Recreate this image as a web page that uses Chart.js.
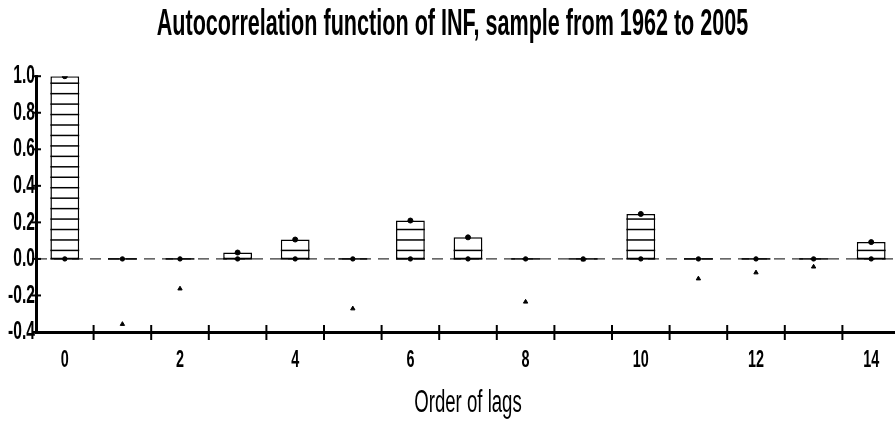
<!DOCTYPE html>
<html>
<head>
<meta charset="utf-8">
<title>Autocorrelation function of INF</title>
<script src="https://cdn.jsdelivr.net/npm/chart.js@4.4.0/dist/chart.umd.min.js"></script>
<style>
	html, body { margin: 0; padding: 0; background: #fff; overflow: hidden; }
	#acfChart { display: block; }
</style>
</head>
<body>
<canvas id="acfChart" width="905" height="428"></canvas>

<script>
	// lags on the x axis
	const lags = ['0', '1', '2', '3', '4', '5', '6', '7', '8', '9', '10', '11', '12', '13', '14'];
	// autocorrelation of INF
	const acf = [1.0, -0.357, -0.163, 0.035, 0.106, -0.272, 0.21, 0.118, -0.235, -0.004, 0.246, -0.108, -0.075, -0.043, 0.092];
	// the dot that sits on the zero line at every lag
	const zeroMarks = [0, 0, 0, 0, 0, 0, 0, 0, 0, 0, 0, 0, 0, 0, 0];
	// y axis tick labels
	const yTicks = [-0.4, -0.2, 0.0, 0.2, 0.4, 0.6, 0.8, 1.0];

	const FONT = "'Liberation Sans', Arial, sans-serif";
	const SQUEEZE = 0.6;   // the original uses a tall, condensed face
	const HATCH_START = 0.0465, HATCH_STEP = 0.0572;

	Chart.defaults.color = '#000';
	Chart.defaults.font.family = FONT;

	// bars only go up; a negative lag keeps just its base line
	var barValues = acf.map(function(v) { return v > 0 ? v : 0; });

	var ctx = document.getElementById('acfChart').getContext('2d');

	// squeeze every label horizontally around its anchor point
	var rawFill = ctx.fillText.bind(ctx);
	var rawMeasure = ctx.measureText.bind(ctx);
	ctx.fillText = function(text, x, y, maxWidth) {
		ctx.save();
		ctx.translate(x, y);
		ctx.scale(SQUEEZE, 1);
		if (maxWidth === undefined) rawFill(text, 0, 0);
		else rawFill(text, 0, 0, maxWidth / SQUEEZE);
		ctx.restore();
	};
	ctx.measureText = function(text) {
		var m = rawMeasure(text);
		return {
			width: m.width * SQUEEZE,
			actualBoundingBoxLeft: m.actualBoundingBoxLeft * SQUEEZE,
			actualBoundingBoxRight: m.actualBoundingBoxRight * SQUEEZE,
			actualBoundingBoxAscent: m.actualBoundingBoxAscent,
			actualBoundingBoxDescent: m.actualBoundingBoxDescent
		};
	};

	var acfDecor = {
		id: 'acfDecor',
		beforeDatasetsDraw: function(chart) {
			var c = chart.ctx, area = chart.chartArea;
			var y0 = chart.scales.y.getPixelForValue(0);
			c.save();
			c.strokeStyle = '#000';
			c.lineWidth = 1;
			c.setLineDash([11, 7]);
			c.beginPath();
			c.moveTo(area.left, y0);
			c.lineTo(area.right, y0);
			c.stroke();
			c.restore();
		},
		afterDatasetDraw: function(chart, args) {
			if (args.index !== 0) return;
			var c = chart.ctx, yScale = chart.scales.y;
			c.save();
			c.strokeStyle = '#000';
			c.lineWidth = 1.5;
			args.meta.data.forEach(function(bar) {
				var half = bar.width / 2;
				// horizontal hatching inside the bar
				for (var h = HATCH_START; ; h += HATCH_STEP) {
					var py = yScale.getPixelForValue(h);
					if (py < bar.y + 3) break;
					c.beginPath();
					c.moveTo(bar.x - half, py);
					c.lineTo(bar.x + half, py);
					c.stroke();
				}
				// solid base at zero
				c.beginPath();
				c.moveTo(bar.x - half, bar.base);
				c.lineTo(bar.x + half, bar.base);
				c.stroke();
			});
			c.restore();
		},
		afterDraw: function(chart) {
			var c = chart.ctx, area = chart.chartArea;
			var xScale = chart.scales.x, yScale = chart.scales.y;
			c.save();
			c.strokeStyle = '#000';
			c.lineWidth = 2;
			// tick marks crossing the y axis
			yTicks.forEach(function(v) {
				var py = yScale.getPixelForValue(v);
				c.beginPath();
				c.moveTo(area.left - 4, py);
				c.lineTo(area.left + 5, py);
				c.stroke();
			});
			// tick marks crossing the x axis, between the lags
			for (var i = 0; i < lags.length - 1; i++) {
				var px = xScale.getPixelForValue(i + 0.5);
				c.beginPath();
				c.moveTo(px, area.bottom - 7);
				c.lineTo(px, area.bottom + 8);
				c.stroke();
			}
			c.restore();
		}
	};

	var myChart = new Chart(ctx, {
		type: 'bar',
		data: {
			labels: lags,
			datasets: [{
				label: 'ACF',
				data: barValues,
				backgroundColor: '#fff',
				borderColor: '#000',
				borderWidth: 1.5,
				borderSkipped: false,
				barPercentage: 0.5,
				categoryPercentage: 1.0,
				order: 2
			}, {
				type: 'line',
				label: 'ACF value',
				data: acf,
				showLine: false,
				pointStyle: acf.map(function(v) { return v < 0 ? 'triangle' : 'circle'; }),
				pointRadius: 2.5,
				backgroundColor: '#000',
				borderColor: '#000',
				borderWidth: 1,
				order: 1
			}, {
				type: 'line',
				label: 'zero',
				data: zeroMarks,
				showLine: false,
				pointRadius: 2.2,
				backgroundColor: '#000',
				borderColor: '#000',
				order: 1
			}]
		},
		options: {
			responsive: false,
			animation: false,
			devicePixelRatio: 1,
			layout: { padding: { left: 0, right: 0, top: 0, bottom: 0 } },
			plugins: {
				legend: { display: false },
				tooltip: { enabled: false },
				title: {
					display: true,
					text: 'Autocorrelation function of INF, sample from 1962 to 2005',
					font: { size: 36, weight: 'bold', family: FONT },
					padding: { top: 3, bottom: 30 }
				}
			},
			scales: {
				x: {
					offset: true,
					grid: { display: false, drawTicks: false, tickLength: 0 },
					border: { display: true, color: '#000', width: 3 },
					afterFit: function(scale) { scale.height = 96; },
					ticks: {
						autoSkip: false,
						maxRotation: 0,
						padding: 14,
						font: { size: 24, weight: 'bold' },
						callback: function(val, index) { return index % 2 === 0 ? lags[index] : ''; }
					},
					title: {
						display: true,
						text: 'Order of lags',
						font: { size: 31 },
						padding: { top: 4, bottom: 6 }
					}
				},
				y: {
					min: -0.4,
					max: 1.0,
					grid: { display: false, drawTicks: false, tickLength: 0 },
					border: { display: true, color: '#000', width: 3 },
					afterBuildTicks: function(scale) {
						scale.ticks = yTicks.map(function(v) { return { value: v }; });
					},
					afterFit: function(scale) { scale.width = 36; },
					ticks: {
						padding: 1,
						font: { size: 26, weight: 'bold' },
						callback: function(v) { return Number(v).toFixed(1); }
					}
				}
			}
		},
		plugins: [acfDecor]
	});
</script>
</body>
</html>
